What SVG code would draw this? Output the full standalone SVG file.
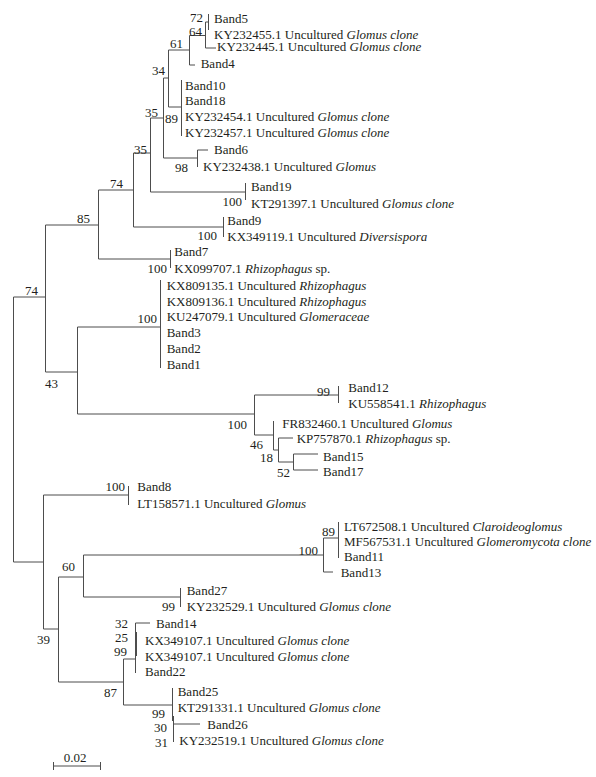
<svg xmlns="http://www.w3.org/2000/svg" width="596" height="777" viewBox="0 0 596 777">
<style>
text{font-family:"Liberation Serif","Times New Roman",serif;font-size:13px;fill:#231f20}
.b{text-anchor:end}
.i{font-style:italic}
#connectors path{fill:none;stroke:#4d4d4d;stroke-width:1}
</style>
<rect width="596" height="777" fill="#fff"/>
<g id="connectors">
<path d="M208.5,14V30 M205.5,22H208.5 M205.5,22V48 M205.5,48H216"/>
<path d="M189.5,35.5H205.5 M189.5,35.5V65 M189.5,65H195"/>
<path d="M168.5,50H189.5 M168.5,50V107 M168.5,107H181.5 M181.5,80V136"/>
<path d="M163.5,78H168.5 M163.5,78V158 M163.5,158H197.5 M197.5,150V167 M197.5,150H208"/>
<path d="M150.5,118H163.5 M150.5,118V192 M150.5,192H245.5 M245.5,183V200"/>
<path d="M133.5,153H150.5 M133.5,153V227 M133.5,227H223.5 M223.5,217V237"/>
<path d="M98.5,190H133.5 M98.5,190V259 M98.5,259H170.5 M170.5,250V268"/>
<path d="M45.5,225H98.5 M45.5,225V372 M45.5,372H77.5"/>
<path d="M77.5,327V414 M77.5,327H160.5 M160.5,280V368 M77.5,414H254.5"/>
<path d="M254.5,395V435 M254.5,395H338.5 M338.5,386V403 M254.5,435H273.5"/>
<path d="M273.5,421V450 M273.5,450H278.5 M278.5,438V462 M278.5,438H293 M278.5,462H293.5 M293.5,454V470 M293.5,454H318 M293.5,470H318"/>
<path d="M13.5,297H45.5 M13.5,297V562 M13.5,562H43.5"/>
<path d="M43.5,495V629 M43.5,495H128.5 M128.5,486V505 M43.5,629H58.5"/>
<path d="M58.5,577V682 M58.5,577H83.5 M83.5,555V597 M83.5,597H180.5 M180.5,588V607"/>
<path d="M83.5,555H323.5 M323.5,538V572 M323.5,572H333 M323.5,538H338.5 M338.5,522V558"/>
<path d="M58.5,682H123.5 M123.5,659V705 M123.5,659H135.5 M135.5,623V673 M136.5,632V656 M135.5,623H150"/>
<path d="M123.5,705H172.5 M172.5,688V721 M173.5,716V742 M173.5,724H200"/>
<path d="M53.5,766H100.5 M53.5,762V770 M100.5,762V770"/>
</g>
<g id="leaves">
<g id="n-band5"><text x="214" y="22.8">Band5</text></g>
<g id="n-ky232455"><text x="214" y="38.8">KY232455.1 Uncultured <tspan class="i">Glomus clone</tspan></text></g>
<g id="n-ky232445"><text x="217" y="51.2">KY232445.1 Uncultured <tspan class="i">Glomus clone</tspan></text></g>
<g id="n-band4"><text x="200.7" y="67.8">Band4</text></g>
<g id="n-band10"><text x="185" y="89.5">Band10</text></g>
<g id="n-band18"><text x="185" y="105.2">Band18</text></g>
<g id="n-ky232454"><text x="185" y="121.2">KY232454.1 Uncultured <tspan class="i">Glomus clone</tspan></text></g>
<g id="n-ky232457"><text x="185" y="136.8">KY232457.1 Uncultured <tspan class="i">Glomus clone</tspan></text></g>
<g id="n-band6"><text x="214" y="153.8">Band6</text></g>
<g id="n-ky232438"><text x="203" y="171.2">KY232438.1 Uncultured <tspan class="i">Glomus</tspan></text></g>
<g id="n-band19"><text x="251" y="191.2">Band19</text></g>
<g id="n-kt291397"><text x="251" y="207.8">KT291397.1 Uncultured <tspan class="i">Glomus clone</tspan></text></g>
<g id="n-band9"><text x="227.3" y="224.5">Band9</text></g>
<g id="n-kx349119"><text x="227.3" y="241.2">KX349119.1 Uncultured <tspan class="i">Diversispora</tspan></text></g>
<g id="n-band7"><text x="174.3" y="256.2">Band7</text></g>
<g id="n-kx099707"><text x="174.3" y="272.8">KX099707.1 <tspan class="i">Rhizophagus</tspan> sp.</text></g>
<g id="n-kx809135"><text x="166.7" y="289.5">KX809135.1 Uncultured <tspan class="i">Rhizophagus</tspan></text></g>
<g id="n-kx809136"><text x="166.7" y="305.5">KX809136.1 Uncultured <tspan class="i">Rhizophagus</tspan></text></g>
<g id="n-ku247079"><text x="166.7" y="321.2">KU247079.1 Uncultured <tspan class="i">Glomeraceae</tspan></text></g>
<g id="n-band3"><text x="166.7" y="336.8">Band3</text></g>
<g id="n-band2"><text x="166.7" y="352.8">Band2</text></g>
<g id="n-band1"><text x="166.7" y="368.5">Band1</text></g>
<g id="n-band12"><text x="348.3" y="391.8">Band12</text></g>
<g id="n-ku558541"><text x="348.3" y="407.8">KU558541.1 <tspan class="i">Rhizophagus</tspan></text></g>
<g id="n-fr832460"><text x="282.3" y="427.8">FR832460.1 Uncultured <tspan class="i">Glomus</tspan></text></g>
<g id="n-kp757870"><text x="296.7" y="442.8">KP757870.1 <tspan class="i">Rhizophagus</tspan> sp.</text></g>
<g id="n-band15"><text x="323" y="461.2">Band15</text></g>
<g id="n-band17"><text x="323" y="476.2">Band17</text></g>
<g id="n-band8"><text x="137.3" y="490.5">Band8</text></g>
<g id="n-lt158571"><text x="137.3" y="507.8">LT158571.1 Uncultured <tspan class="i">Glomus</tspan></text></g>
<g id="n-lt672508"><text x="344" y="530.5">LT672508.1 Uncultured <tspan class="i">Claroideoglomus</tspan></text></g>
<g id="n-mf567531"><text x="344" y="545.5">MF567531.1 Uncultured <tspan class="i">Glomeromycota clone</tspan></text></g>
<g id="n-band11"><text x="344" y="560.5">Band11</text></g>
<g id="n-band13"><text x="340.7" y="576.8">Band13</text></g>
<g id="n-band27"><text x="186.7" y="594.5">Band27</text></g>
<g id="n-ky232529"><text x="186.7" y="611.2">KY232529.1 Uncultured <tspan class="i">Glomus clone</tspan></text></g>
<g id="n-band14"><text x="156" y="627.8">Band14</text></g>
<g id="n-kx349107a"><text x="145" y="644.5">KX349107.1 Uncultured <tspan class="i">Glomus clone</tspan></text></g>
<g id="n-kx349107b"><text x="145" y="660.5">KX349107.1 Uncultured <tspan class="i">Glomus clone</tspan></text></g>
<g id="n-band22"><text x="145" y="676.2">Band22</text></g>
<g id="n-band25"><text x="177.7" y="696.2">Band25</text></g>
<g id="n-kt291331"><text x="177.7" y="712.2">KT291331.1 Uncultured <tspan class="i">Glomus clone</tspan></text></g>
<g id="n-band26"><text x="207.3" y="728.5">Band26</text></g>
<g id="n-ky232519"><text x="179.3" y="744.5">KY232519.1 Uncultured <tspan class="i">Glomus clone</tspan></text></g>
</g>
<g id="bootstrap">
<text class="b" x="203" y="21.5">72</text>
<text class="b" x="202" y="35.5">64</text>
<text class="b" x="183" y="47.5">61</text>
<text class="b" x="165" y="74.5">34</text>
<text class="b" x="158" y="117.2">35</text>
<text class="b" x="178" y="122.5">89</text>
<text class="b" x="147" y="153.5">35</text>
<text class="b" x="188" y="171.5">98</text>
<text class="b" x="123" y="187.5">74</text>
<text class="b" x="242" y="205.5">100</text>
<text class="b" x="90" y="222.5">85</text>
<text class="b" x="217" y="239.5">100</text>
<text class="b" x="167" y="272.5">100</text>
<text class="b" x="38" y="294.5">74</text>
<text class="b" x="157" y="322.5">100</text>
<text class="b" x="58" y="387.5">43</text>
<text class="b" x="330" y="395.5">99</text>
<text class="b" x="247" y="428.5">100</text>
<text class="b" x="263" y="448.5">46</text>
<text class="b" x="273" y="461.5">18</text>
<text class="b" x="290" y="476.5">52</text>
<text class="b" x="125" y="490.5">100</text>
<text class="b" x="335" y="535.5">89</text>
<text class="b" x="318" y="554.5">100</text>
<text class="b" x="75" y="570.5">60</text>
<text class="b" x="175" y="610.5">99</text>
<text class="b" x="128" y="627.5">32</text>
<text class="b" x="128" y="641.5">25</text>
<text class="b" x="50" y="643.5">39</text>
<text class="b" x="127" y="655.5">99</text>
<text class="b" x="117" y="696.5">87</text>
<text class="b" x="165" y="717.5">99</text>
<text class="b" x="167" y="731.5">30</text>
<text class="b" x="168" y="746.5">31</text>
</g>
<g id="scale"><text x="75" y="761.5" text-anchor="middle">0.02</text></g>
</svg>
